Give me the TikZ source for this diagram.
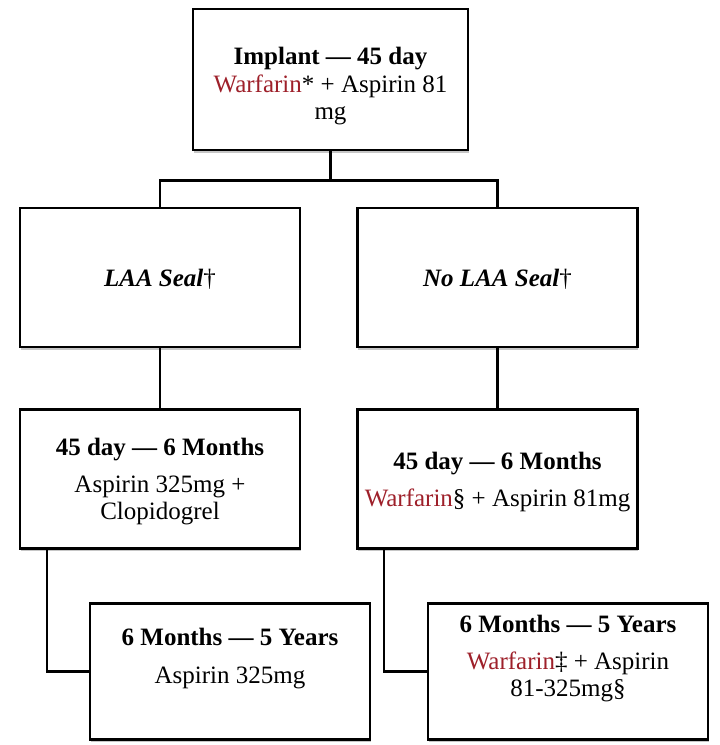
\documentclass[tikz,border=0pt]{standalone}
\usepackage{fontspec}
\setmainfont{Liberation Serif}
\usetikzlibrary{positioning,shadows}
\definecolor{warfred}{RGB}{158,32,42}
\newcommand{\warf}{\textcolor{warfred}{Warfarin}}

\begin{document}
\begin{tikzpicture}[x=1pt,y=-1pt,
    box/.style={draw, line width=2.6pt, fill=white, inner sep=0pt,
      minimum width=280pt, minimum height=139pt,
      drop shadow={shadow xshift=0.5pt, shadow yshift=-2.5pt, opacity=0.45}},
    txt/.style={align=center, font=\fontsize{25}{26.5}\selectfont},
    link/.style={line width=2.4pt}]
    \useasboundingbox (0,0) rectangle (720,745);

    % Define boxes
    \node[box, minimum width=275pt, minimum height=141pt] (implant) at (330.5,79.5) {};
    \node[box] (sealL) at (160,277.5) {};
    \node[box] (sealR) at (497.5,277.5) {};
    \node[box, below=60pt of sealL] (dapt) {};
    \node[box, below=60pt of sealR] (warfMid) {};
    \node[box, minimum height=136pt] (asaLong) at (230,671.5) {};
    \node[box, minimum height=136pt] (warfLong) at (568,671.5) {};

    % Box texts
    \node[txt, yshift=-7pt, font=\fontsize{25}{27.5}\selectfont] (implantTxt) at (implant.center)
      {\textbf{Implant — 45 day}\\ \warf* + Aspirin 81\\ mg};
    \node[txt, yshift=-2pt] (sealLTxt) at (sealL.center) {\textbf{\textit{LAA Seal}}†};
    \node[txt, yshift=-2pt] (sealRTxt) at (sealR.center) {\textbf{\textit{No LAA Seal}}†};
    \node[txt, yshift=-2pt] (daptTxt) at (dapt.center)
      {\textbf{45 day — 6 Months}\\[11pt] Aspirin 325mg +\\ Clopidogrel};
    \node[txt, yshift=-3pt] (warfMidTxt) at (warfMid.center)
      {\textbf{45 day — 6 Months}\\[11pt] \warf§ + Aspirin 81mg};
    \node[txt, yshift=13pt] (asaLongTxt) at (asaLong.center)
      {\textbf{6 Months — 5 Years}\\[11pt] Aspirin 325mg};
    \node[txt, yshift=13pt] (warfLongTxt) at (warfLong.center)
      {\textbf{6 Months — 5 Years}\\[11pt] \warf‡ + Aspirin\\ 81-325mg§};

    % Draw connectors
    \draw[link] (implant.south) -- ++(0,29) -| (sealL.north);
    \draw[link] (implant.south) -- ++(0,29) -| (sealR.north);
    \draw[link] (sealL.south) -- (dapt.north);
    \draw[link] (sealR.south) -- (warfMid.north);
    \draw[link] ([xshift=28pt]dapt.south west) |- (asaLong.west);
    \draw[link] ([xshift=28pt]warfMid.south west) |- (warfLong.west);
\end{tikzpicture}
\end{document}
